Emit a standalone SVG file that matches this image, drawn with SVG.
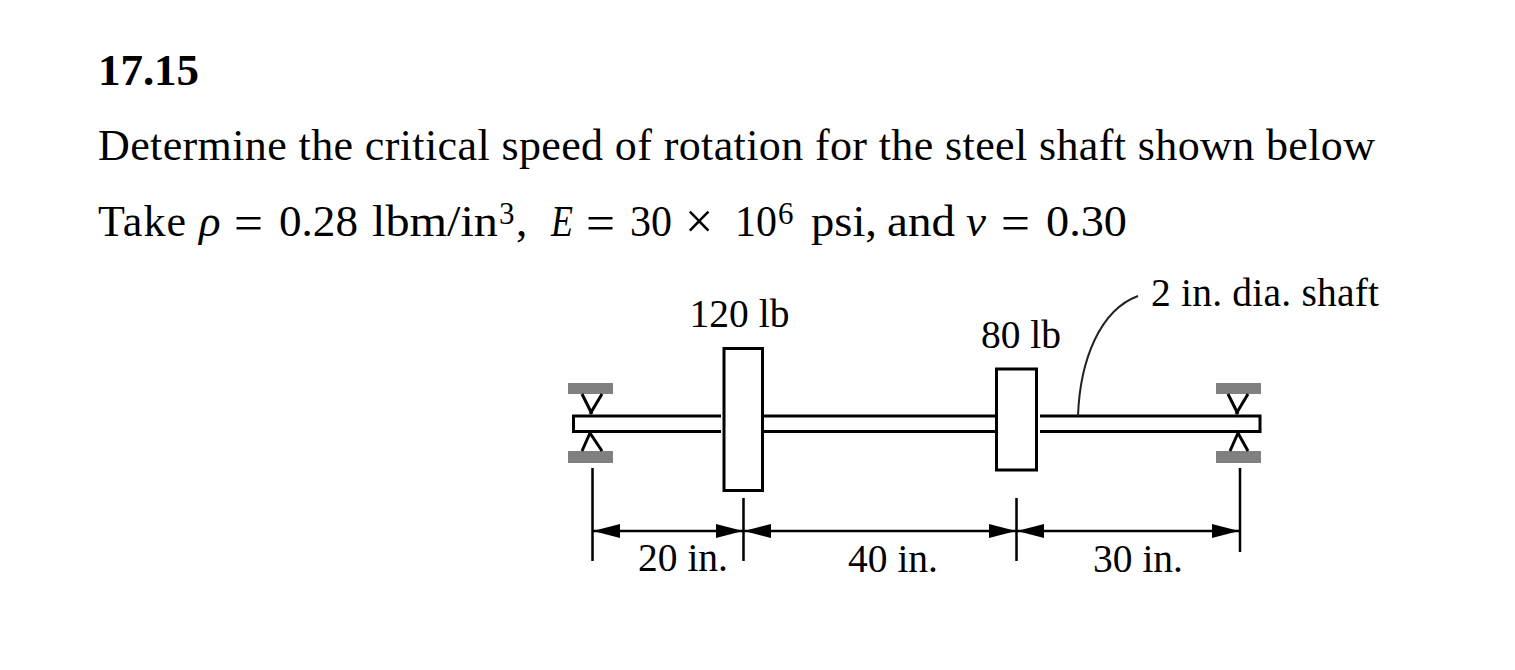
<svg xmlns="http://www.w3.org/2000/svg" width="1515" height="670" viewBox="0 0 1515 670">
<style>
text{font-family:"Liberation Serif","Times New Roman",serif;fill:#000}
.h{font-size:44px}
.b{font-size:45px;font-weight:bold}
.m{font-size:45px}
.e{font-size:50px}
.x{font-size:50px}
.sup{font-size:31px}
.i{font-style:italic}
.l{font-size:39.500px}
.s{fill:none;stroke:#000;stroke-width:3}
.t{fill:none;stroke:#000;stroke-width:2.500}
.q{fill:none;stroke:#222;stroke-width:2}
.g{fill:#808080}
.d{fill:#fff;stroke:#000;stroke-width:3}
</style>
<defs>
<marker id="a" markerUnits="userSpaceOnUse" markerWidth="28" markerHeight="16" refX="27" refY="8" orient="auto-start-reverse"><path d="M0 1L27 8L0 15z" fill="#000"/></marker>
</defs>
<rect width="1515" height="670" fill="#fff"/>
<text id="title" x="98" y="85" class="b" textLength="101">17.15</text>
<text id="line1" x="98" y="160" class="h" textLength="1277">Determine the critical speed of rotation for the steel shaft shown below</text>
<g id="line2">
<text x="98" y="236" class="h" textLength="88">Take</text>
<text x="199" y="236" class="m i">ρ</text>
<text x="234" y="240" class="e" textLength="29" lengthAdjust="spacingAndGlyphs">=</text>
<text x="279" y="236" class="m" textLength="79" lengthAdjust="spacingAndGlyphs">0.28</text>
<text x="372" y="236" class="m" textLength="126" lengthAdjust="spacingAndGlyphs">lbm/in</text>
<text x="499" y="224" class="sup">3</text>
<text x="516" y="236" class="m">,</text>
<text x="551" y="236" class="m i" textLength="22" lengthAdjust="spacingAndGlyphs">E</text>
<text x="586" y="240" class="e" textLength="29" lengthAdjust="spacingAndGlyphs">=</text>
<text x="630" y="236" class="m" textLength="42" lengthAdjust="spacingAndGlyphs">30</text>
<text x="685" y="238" class="x">×</text>
<text x="735" y="236" class="m" textLength="42" lengthAdjust="spacingAndGlyphs">10</text>
<text x="778" y="224" class="sup">6</text>
<text x="811" y="236" class="h" textLength="66" lengthAdjust="spacingAndGlyphs">psi,</text>
<text x="887" y="236" class="h" textLength="68" lengthAdjust="spacingAndGlyphs">and</text>
<text x="966" y="236" class="m i">ν</text>
<text x="1001" y="240" class="e" textLength="29" lengthAdjust="spacingAndGlyphs">=</text>
<text x="1046" y="236" class="m" textLength="81" lengthAdjust="spacingAndGlyphs">0.30</text>
</g>
<g id="shaft">
<path class="s" d="M721 416H573.500V431.500H721M764 416H996M764 431.500H996M1040 416H1260V431.500H1040"/>
</g>
<g id="support-left">
<rect class="g" x="568" y="383" width="45" height="11"/>
<rect class="g" x="568" y="451" width="45" height="12"/>
<path class="s" d="M582 394L592 414M602 394L590 414M582 451L590 433L602 451"/>
</g>
<g id="support-right">
<rect class="g" x="1216" y="383" width="45" height="11"/>
<rect class="g" x="1216" y="451" width="45" height="12"/>
<path class="s" d="M1228 394L1238 414M1248 394L1236 414M1230 451L1238 433L1248 451"/>
</g>
<g id="disk-120">
<rect class="d" x="724" y="348.500" width="38.500" height="142"/>
<text x="739.500" y="327" class="l" text-anchor="middle">120 lb</text>
</g>
<g id="disk-80">
<rect class="d" x="996.500" y="369" width="40" height="101"/>
<text x="1021" y="348" class="l" text-anchor="middle">80 lb</text>
</g>
<g id="connectors">
<path class="t" d="M592.500 468V561M743.500 498V561M1016.500 498V561M1240 468V552"/>
<path class="t" d="M593 531H743" marker-start="url(#a)" marker-end="url(#a)"/>
<path class="t" d="M744 531H1016" marker-start="url(#a)" marker-end="url(#a)"/>
<path class="t" d="M1017 531H1239" marker-start="url(#a)" marker-end="url(#a)"/>
<path class="q" d="M1078 416C1080 360 1100 310 1138 296"/>
</g>
<text id="dim-20" x="683" y="571" class="l" text-anchor="middle">20 in.</text>
<text id="dim-40" x="893" y="572" class="l" text-anchor="middle">40 in.</text>
<text id="dim-30" x="1138" y="572" class="l" text-anchor="middle">30 in.</text>
<text id="shaft-label" x="1151" y="306" class="l" textLength="228">2 in. dia. shaft</text>
</svg>
